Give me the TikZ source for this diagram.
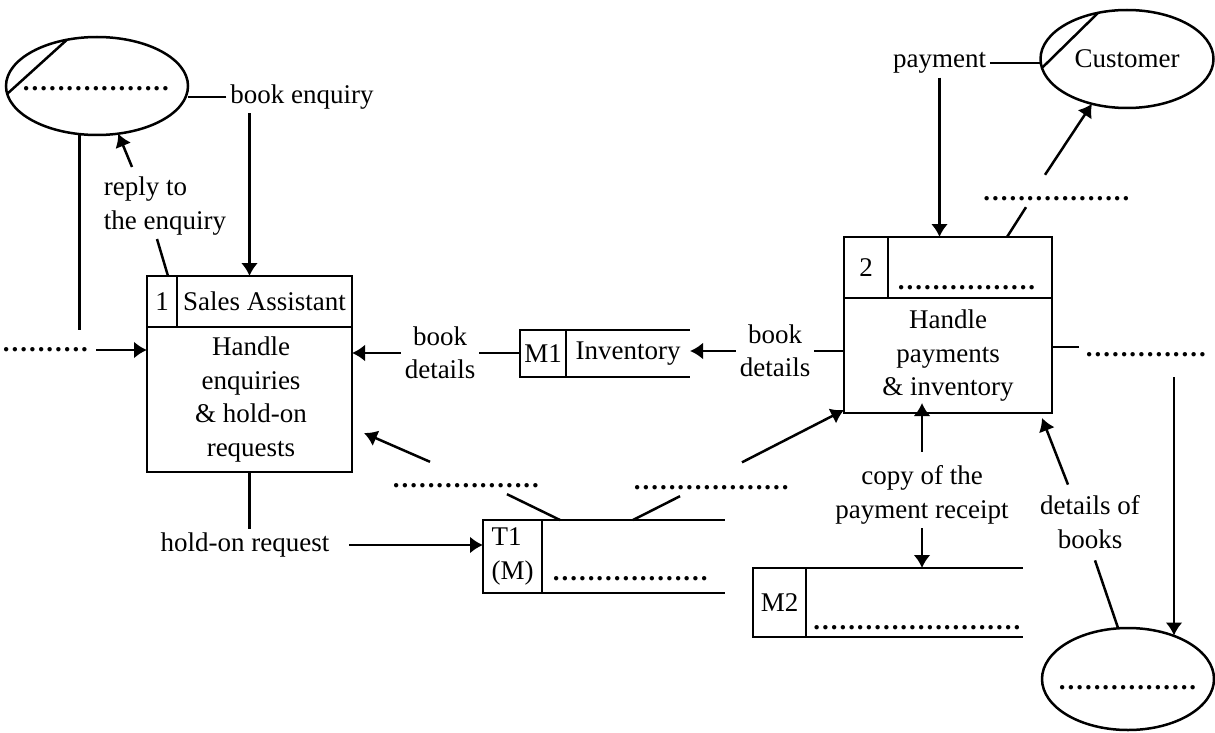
\documentclass[tikz,border=0pt]{standalone}
\usepackage{fontspec}
\setmainfont{Liberation Serif}
\usetikzlibrary{positioning,shapes.geometric,arrows.meta}

\newcommand{\blank}[1]{\hbox to #1{\leaders\hbox to 4.35pt{\hss\textbf{.}\hss}\hfill}}

\begin{document}
\begin{tikzpicture}[
x=0.5pt,y=-0.5pt,
line width=1.25pt,
font=\fontsize{13.5pt}{16.75pt}\selectfont,
every node/.style={outer sep=0pt},
ent/.style={
  draw,
  ellipse,
  inner sep=0pt
},
cell/.style={
  draw,
  inner sep=1pt
},
proc/.style={
  draw,
  inner sep=0pt
},
lbl/.style={
  inner sep=2pt,
  align=center
},
fillin/.style={
  inner sep=3pt
},
flow/.style={
  -{Latex[length=6.5pt,width=8.5pt]}
}
]
\useasboundingbox (0,0) rectangle (1215,733);

% external entities
\node[ent,minimum width=91pt,minimum height=49pt] (e1) at (97,86) {};
\node[fillin] (e1d) at (97,89) {\blank{75pt}};
\draw (e1.185) -- (e1.123);

\node[ent,minimum width=86.5pt,minimum height=49pt] (ce) at (1127,59) {Customer};
\draw (ce.186) -- (ce.122);

\node[ent,minimum width=86pt,minimum height=51pt] (e2) at (1128,679) {};
\node[fillin] (e2d) at (1129,688) {\blank{71pt}};

% processes
\node[proc,minimum width=102.5pt,minimum height=98pt] (p1) at (249.5,374) {};
\node[cell,anchor=north west,minimum width=15pt,minimum height=25.5pt] (p1n) at (p1.north west) {1};
\node[cell,right=0pt of p1n,minimum width=87.5pt,minimum height=25.5pt] (p1t) {Sales Assistant};
\node[lbl] (p1b) at (251,399.5) {Handle\\enquiries\\\& hold-on\\requests};

\node[proc,minimum width=104pt,minimum height=88pt] (p2) at (948,325) {};
\node[cell,anchor=north west,minimum width=22pt,minimum height=30.5pt] (p2n) at (p2.north west) {2};
\node[cell,right=0pt of p2n,minimum width=82pt,minimum height=30.5pt] (p2t) {};
\node[fillin] (p2d) at (970,288) {\blank{73pt}};
\node[lbl] (p2b) at (948,356) {Handle\\payments\\\& inventory};

% data stores
\node[cell,minimum width=23pt,minimum height=23.5pt] (m1) at (543,353.5) {M1};
\node[inner sep=1pt,right=0pt of m1,minimum width=62pt,minimum height=23.5pt] (m1t) {Inventory};
\draw (m1.north east) -- (m1t.north east) (m1.south east) -- (m1t.south east);

\node[cell,minimum width=29.5pt,minimum height=36.5pt,align=left] (t1) at (512.5,556.5) {T1\\(M)};
\node[right=0pt of t1,minimum width=91.5pt,minimum height=36.5pt] (t1t) {};
\draw (t1.north east) -- (t1t.north east) (t1.south east) -- (t1t.south east);
\node[fillin] (t1d) at (634.5,579) {\blank{82.5pt}};

\node[cell,minimum width=26.5pt,minimum height=34.5pt] (m2) at (779.5,602.5) {M2};
\node[right=0pt of m2,minimum width=108.5pt,minimum height=34.5pt] (m2t) {};
\draw (m2.north east) -- (m2t.north east) (m2.south east) -- (m2t.south east);
\node[fillin] (m2d) at (917.5,628) {\blank{105pt}};

% flow labels
\node[lbl] (be) at (302,97) {book enquiry};
\node[lbl,align=left] (rep) at (165,206) {reply to\\the enquiry};
\node[fillin] (lin) at (46,350) {\blank{44pt}};
\node[lbl] (bd1) at (440,353) {book\\details};
\node[lbl] (bd2) at (775,351) {book\\details};
\node[lbl] (hor) at (245,545) {hold-on request};
\node[fillin] (tl) at (470,486) {\blank{78pt}};
\node[fillin] (tr) at (712.5,488) {\blank{79.5pt}};
\node[lbl] (pay) at (939.5,63) {payment};
\node[fillin] (ob) at (1060,199) {\blank{77.5pt}};
\node[fillin] (rout) at (1147.5,355) {\blank{62.5pt}};
\node[lbl] (cpy) at (922,495) {copy of the\\payment receipt};
\node[lbl] (dob) at (1090,522) {details of\\books};

% flows
\draw (be.west) -- (e1.east |- be.west);
\draw[flow] (be.south -| p1.north) -- (p1.north);

\draw ([xshift=-4pt]rep.south) -- ([xshift=10.5pt]p1.north west);
\draw[flow] ([shift={(-16.5pt,3pt)}]rep.north) -- (e1.294);

\coordinate (c1) at (79,330);
\draw (e1.250) -- (e1.250 |- c1);
\draw[flow] (lin.east) -- (lin.east -| p1.west);

\draw[flow] (bd1.west) -- (bd1.west -| p1.east);
\draw (bd1.east) -- (bd1.east -| m1.west);
\draw[flow] (bd2.west) -- (bd2.west -| m1t.east);
\draw (bd2.east) -- (bd2.east -| p2.west);

\draw (p1.south) -- (hor.north -| p1.south);
\draw[flow] ([xshift=8pt]hor.east) -- (hor.east -| t1.west);

\draw ([xshift=9pt]t1.north east) -- ([xshift=18.5pt]tl.south);
\draw[flow] ([shift={(-20pt,8pt)}]tl.north) -- ([shift={(6pt,-29.5pt)}]p1.east);
\draw ([xshift=45.5pt]t1.north east) -- ([xshift=-16.25pt]tr.south);
\draw[flow] ([shift={(14.75pt,8.75pt)}]tr.north) -- ([yshift=1.5pt]p2.south west);

\draw (pay.east) -- (pay.east -| ce.west);
\draw[flow] (pay.south) -- (pay.south |- p2.north);
\draw ([xshift=29.5pt]p2.north) -- ([xshift=-17pt]ob.south);
\draw[flow] ([shift={(-7.5pt,8pt)}]ob.north) -- (ce.232);

\draw ([yshift=4pt]rout.west) -- ([yshift=4pt]rout.west -| p2.east);
\draw[flow] ([shift={(13.25pt,-7pt)}]rout.south) -- ([xshift=13.25pt]rout.south |- e2.44);

\draw[flow] ([yshift=5pt]cpy.north) -- ([yshift=5pt]cpy.north |- p2.south);
\draw[flow] (cpy.south) -- (cpy.south |- m2t.north);

\draw[flow] ([shift={(-11pt,3.5pt)}]dob.north) -- ([shift={(-5pt,-2.5pt)}]p2.south east);
\draw ([shift={(2.5pt,-4pt)}]dob.south) -- (e2.101);

\end{tikzpicture}
\end{document}
